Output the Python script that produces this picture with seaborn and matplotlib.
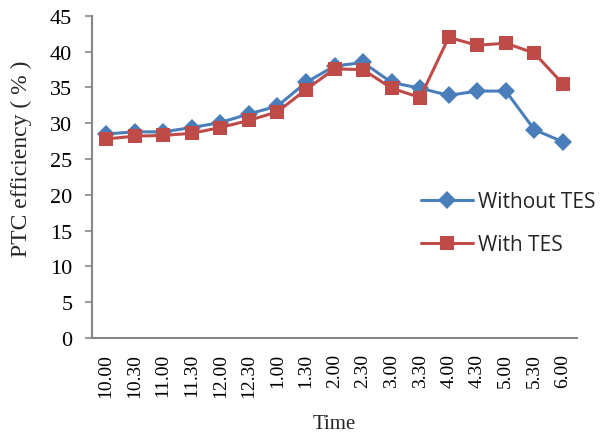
import numpy as np
import pandas as pd
import matplotlib
matplotlib.use("Agg")
import matplotlib.pyplot as plt
import seaborn as sns

times = ["10.00", "10.30", "11.00", "11.30", "12.00", "12.30", "1.00", "1.30",
         "2.00", "2.30", "3.00", "3.30", "4.00", "4.30", "5.00", "5.30", "6.00"]
without_tes = [28.5, 28.8, 28.8, 29.4, 30.1, 31.3, 32.4, 35.7,
               38.0, 38.5, 35.7, 34.9, 33.9, 34.5, 34.5, 29.1, 27.4]
with_tes = [27.8, 28.2, 28.3, 28.6, 29.4, 30.4, 31.6, 34.7,
            37.6, 37.5, 34.9, 33.6, 42.0, 40.9, 41.2, 39.8, 35.5]
series_names = ["Without TES", "With TES"]
y_ticks = [0, 5, 10, 15, 20, 25, 30, 35, 40, 45]

pos = np.arange(len(times))
df = pd.DataFrame({
    "pos": np.concatenate([pos, pos]),
    "eff": without_tes + with_tes,
    "series": [series_names[0]] * len(times) + [series_names[1]] * len(times),
})

sns.set_style("white")
fig = plt.figure(figsize=(6, 4.35), dpi=100)
ax = fig.add_axes([0.153, 0.221, 0.809, 0.740])

palette = {series_names[0]: "#4A7EBB", series_names[1]: "#BE4B48"}
markers = {series_names[0]: "D", series_names[1]: "s"}
for name in series_names:
    sub = df[df["series"] == name]
    sns.lineplot(data=sub, x="pos", y="eff", ax=ax, color=palette[name],
                 marker=markers[name], markersize=9 if name == series_names[0] else 9.5,
                 markeredgewidth=0, linewidth=2.2, label=name, sort=False)

ax.set_xlim(-0.5, len(times) - 0.5)
ax.set_ylim(0, 45)
ax.set_yticks(y_ticks)
ax.set_xticks(pos)
ax.set_xticklabels(times, rotation=90)

serif = "Liberation Serif"
for lab in ax.get_xticklabels():
    lab.set_fontfamily(serif)
    lab.set_fontsize(14)
    lab.set_color("black")
for lab in ax.get_yticklabels():
    lab.set_fontfamily(serif)
    lab.set_fontsize(16)
    lab.set_color("black")

ax.set_xlabel("Time", fontfamily=serif, fontsize=15, labelpad=12)
ax.set_ylabel("PTC efficiency ( % )", fontfamily=serif, fontsize=17, labelpad=8)
ax.yaxis.set_label_coords(-0.123, 0.56)

for side in ["top", "right"]:
    ax.spines[side].set_visible(False)
for side in ["left", "bottom"]:
    ax.spines[side].set_color("#868686")
    ax.spines[side].set_linewidth(1.5)
ax.tick_params(axis="y", direction="out", length=5, width=1.2, color="#868686", left=True, pad=9)
ax.tick_params(axis="x", length=0, pad=11)

leg = ax.legend(loc="center left", bbox_to_anchor=(0.678, 0.356), frameon=False,
                prop={"family": "Open Sans", "size": 15}, handlelength=2.5,
                handletextpad=0.25, labelspacing=1.05, borderaxespad=0, borderpad=0)

fig.savefig("out.png", dpi=100)
